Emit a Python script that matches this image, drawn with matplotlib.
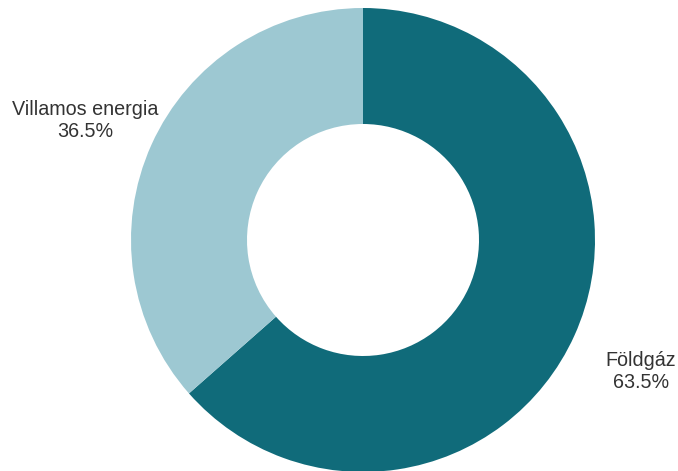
import numpy as np
import matplotlib
matplotlib.use('Agg')
import matplotlib.pyplot as plt

# Chart data
labels = ['Földgáz', 'Villamos energia']
shares = [63.5, 36.5]
colors = ['#106b7a', '#9dc8d2']

plt.rcParams['font.family'] = ['Liberation Sans', 'DejaVu Sans']

fig = plt.figure(figsize=(6.78, 4.71), dpi=100)
ax = fig.add_axes([0, 0, 1, 1])

W, H = 678, 471
cx, cy = 363, H - 240
r = 232

wedges, texts = ax.pie(shares, colors=colors, startangle=90, counterclock=False,
                       center=(cx, cy), radius=r,
                       labels=[f'{l}\n{s:.1f}%' for l, s in zip(labels, shares)],
                       labeldistance=1.315,
                       wedgeprops=dict(width=r * 0.5, edgecolor='none'),
                       textprops=dict(fontsize=14.2, color='#333333', linespacing=1.18))

# centre the labels and nudge them down a bit
for t in texts:
    x, y = t.get_position()
    t.set_position((x, y - 6))
    t.set_ha('center')
    t.set_va('center')

ax.set_xlim(0, W)
ax.set_ylim(0, H)
ax.set_aspect('equal')
ax.axis('off')

fig.savefig('out.png', dpi=100)
